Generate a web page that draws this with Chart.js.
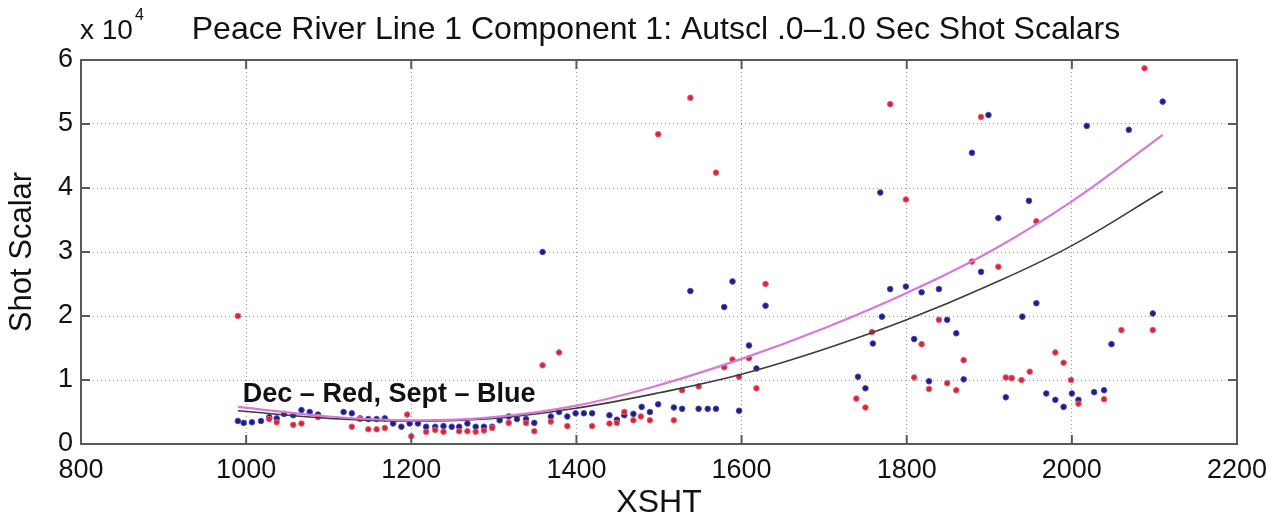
<!doctype html>
<html>
  <head>
    <script src="https://cdn.jsdelivr.net/npm/chart.js@4.4.1/dist/chart.umd.min.js"></script>
    <title>Shot Scalars</title>
    <style>
    body { margin: 0; background: #fff; }
    #ShotChart { display: block; }
    </style>
  </head>
  <body>
    <canvas id="ShotChart" width="1282" height="522"></canvas>

    <script>
    // Sept shots (blue)
    var septX = [990,997,1007,1018,1028,1037,1046,1057,1067,1077,1087,
                 1118,1128,1138,1148,1158,1168,1178,1188,1198,1208,1218,
                 1229,1239,1249,1258,1268,1278,1288,1298,
                 1307,1318,1328,1339,1349,1359,1369,1379,1389,1399,1409,1419,
                 1440,1449,1458,1469,1479,1489,1499,
                 1518,1528,1538,1548,1559,1569,1579,1589,1597,1609,1618,1629,
                 1741,1750,1759,1768,1770,1780,1799,1809,1818,1827,1839,1849,1860,1869,1879,1890,1899,
                 1911,1920,1927,1940,1948,1957,1969,1980,1990,2000,2008,2018,2027,2039,2048,2069,2098,2110];
    var septY = [3600,3300,3400,3600,4200,4000,4700,4500,5300,5000,4600,
                 5000,4800,4000,3900,3900,4000,3200,2700,3200,3200,2700,
                 2700,2800,2700,2700,3200,2700,2700,2700,
                 3700,4300,3900,3900,3300,30000,4300,5000,4300,4800,4800,4800,
                 4500,3800,4500,4700,5800,5000,6200,
                 5700,5500,23900,5500,5500,5500,21400,25400,5200,15400,11800,21600,
                 10500,8700,15700,39300,19900,24200,24600,16400,23700,9800,24200,19400,17300,10100,45500,26900,51400,
                 35300,7300,10300,19900,38000,22000,7900,6900,5800,7900,6900,49700,8100,8400,15600,49100,20400,53500];

    // Dec shots (red)
    var decX = [990,1028,1037,1057,1067,1087,
                1128,1138,1148,1158,1168,1195,1200,1218,
                1229,1239,1258,1268,1278,1288,1298,
                1318,1339,1349,1359,1369,1379,1389,
                1419,1440,1449,1458,1469,1478,1489,1499,
                1518,1528,1538,1548,1569,1579,1589,1597,1609,1618,1629,
                1739,1750,1758,1780,1799,1809,1818,1827,1839,1849,1860,1869,1879,1890,
                1911,1920,1927,1939,1949,1957,1980,1990,1999,2008,2039,2060,2088,2098];
    var decY = [20000,3900,3400,3000,3200,4200,
                2700,3900,2300,2300,2500,4600,1200,1900,
                2200,1900,2000,2000,1900,2100,2500,
                3300,3300,2000,12300,3500,14300,2800,
                2800,3200,3300,5000,3700,4300,3700,48400,
                3700,8400,54100,9000,42400,12000,13200,10500,13400,8700,25000,
                7100,5700,17500,53100,38200,10400,15600,8600,19400,9500,8400,13100,28500,51100,
                27700,10400,10300,10000,11300,34800,14300,12700,10000,6300,7000,17800,58700,17800];

    // fitted curves
    var fitX = [990,1100,1200,1300,1400,1500,1600,1700,1800,1900,2000,2110];
    var pinkFitY = [5800,4300,3700,4200,6000,9200,13300,18100,23600,30000,37900,48300];
    var blackFitY = [5200,4000,3600,4000,5600,8000,10900,14800,19400,24800,31000,39500];

    var xTicks = [800,1000,1200,1400,1600,1800,2000,2200];
    var yTicks = [0,10000,20000,30000,40000,50000,60000];

    var ChartTitle = "Peace River Line 1 Component 1: Autscl .0\u20131.0 Sec Shot Scalars";
    var NoteText = "Dec \u2013 Red, Sept \u2013 Blue";
    var FontName = '"Liberation Sans", Arial, Helvetica, sans-serif';

    function toPoints(xs, ys){
      var pts = [];
      for (var i = 0; i < xs.length; i++) {
        pts.push({x: xs[i], y: ys[i]});
      }
      return pts;
    }

    // frame, inward ticks, title and the little notes
    var FramePlugin = {
      id: 'frame',
      afterDraw: function(chart){
        var ctx = chart.ctx;
        var a = chart.chartArea;
        var sx = chart.scales.x, sy = chart.scales.y;
        ctx.save();
        ctx.strokeStyle = '#5a5a5a';
        ctx.lineWidth = 2;
        ctx.strokeRect(a.left, a.top, a.right - a.left, a.bottom - a.top);
        ctx.beginPath();
        xTicks.forEach(function(t){
          var px = sx.getPixelForValue(t);
          ctx.moveTo(px, a.bottom); ctx.lineTo(px, a.bottom - 9);
          ctx.moveTo(px, a.top); ctx.lineTo(px, a.top + 9);
        });
        yTicks.forEach(function(t){
          var py = sy.getPixelForValue(t);
          ctx.moveTo(a.left, py); ctx.lineTo(a.left + 9, py);
          ctx.moveTo(a.right, py); ctx.lineTo(a.right - 9, py);
        });
        ctx.stroke();

        ctx.fillStyle = '#111';
        ctx.textBaseline = 'alphabetic';
        ctx.textAlign = 'center';
        ctx.font = '32px ' + FontName;
        ctx.fillText(ChartTitle, 656, 39);

        ctx.textAlign = 'left';
        ctx.font = '28px ' + FontName;
        ctx.fillText('x 10', 80, 39);
        var w = ctx.measureText('x 10').width;
        ctx.font = '16px ' + FontName;
        ctx.fillText('4', 80 + w + 2, 20);

        ctx.font = 'bold 27px ' + FontName;
        ctx.fillText(NoteText, sx.getPixelForValue(996), sy.getPixelForValue(6600));
        ctx.restore();
      }
    };

    var ctx = document.getElementById("ShotChart");

    var myChart = new Chart(ctx, {
      type: 'scatter',
      data: {
        datasets: [
          {
            label: 'Dec fit',
            type: 'line',
            data: toPoints(fitX, pinkFitY),
            borderColor: '#d77ad7',
            borderWidth: 2.2,
            pointRadius: 0,
            tension: 0.4,
            fill: false
          },
          {
            label: 'Sept fit',
            type: 'line',
            data: toPoints(fitX, blackFitY),
            borderColor: '#3c3c3c',
            borderWidth: 1.6,
            pointRadius: 0,
            tension: 0.4,
            fill: false
          },
          {
            label: 'Dec',
            data: toPoints(decX, decY),
            backgroundColor: '#d3263a',
            borderColor: '#e8606e',
            borderWidth: 1,
            pointRadius: 2.8
          },
          {
            label: 'Sept',
            data: toPoints(septX, septY),
            backgroundColor: '#1d1d8a',
            borderColor: '#4a4ab0',
            borderWidth: 1,
            pointRadius: 2.8
          }
        ]
      },
      options: {
        responsive: false,
        animation: false,
        layout: { padding: { left: 0, right: 45, top: 60, bottom: 0 } },
        plugins: {
          legend: { display: false },
          tooltip: { enabled: false }
        },
        scales: {
          x: {
            type: 'linear',
            min: 800,
            max: 2200,
            afterBuildTicks: function(scale){
              scale.ticks = xTicks.map(function(v){ return {value: v}; });
            },
            afterFit: function(scale){ scale.height = 78; },
            grid: { color: 'rgba(110,110,110,0.7)', lineWidth: 1, drawTicks: false },
            border: { display: false, dash: [1, 3] },
            ticks: {
              color: '#111',
              font: { size: 27, family: FontName },
              padding: 10,
              maxRotation: 0,
              callback: function(v){ return String(v); }
            },
            title: { display: true, text: 'XSHT', color: '#111', font: { size: 32, family: FontName }, padding: { top: 0, bottom: 0 } }
          },
          y: {
            type: 'linear',
            min: 0,
            max: 60000,
            afterBuildTicks: function(scale){
              scale.ticks = yTicks.map(function(v){ return {value: v}; });
            },
            afterFit: function(scale){ scale.width = 81; },
            grid: { color: 'rgba(110,110,110,0.7)', lineWidth: 1, drawTicks: false },
            border: { display: false, dash: [1, 3] },
            ticks: {
              color: '#111',
              font: { size: 27, family: FontName },
              padding: 8,
              callback: function(v){ return String(v / 10000); }
            },
            title: { display: true, text: 'Shot Scalar', color: '#111', font: { size: 31, family: FontName }, padding: { top: 4, bottom: 0 } }
          }
        }
      },
      plugins: [FramePlugin]
    });
    </script>
  </body>
</html>
